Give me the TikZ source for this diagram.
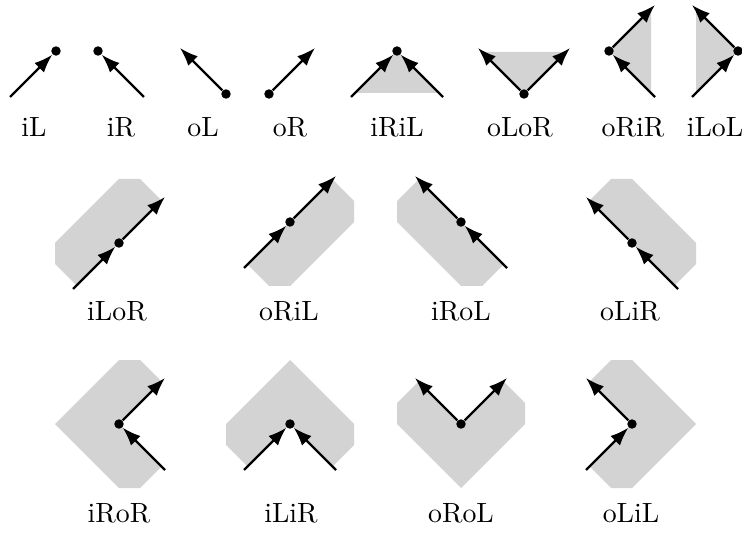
\documentclass[tikz,border=0pt]{standalone}
\usetikzlibrary{arrows.meta}
\definecolor{shade}{RGB}{211,211,211}
\tikzset{
  dotn/.style={circle,fill=black,inner sep=0pt,minimum size=3.5pt},
  arr/.style={line width=0.8pt,-{Latex[length=6.8pt,width=5pt]}},
  region/.style={fill=shade,draw=none},
  lab/.style={anchor=base,inner sep=0pt,font=\fontsize{10.3}{12}\selectfont}
}
\begin{document}
\begin{tikzpicture}[x=0.37pt,y=-0.37pt]
\useasboundingbox (0,0) rectangle (742,539);
% ---------- row 1 ----------
\begin{scope}[shift={(56,51)}]
  \node[dotn] (iLd) at (0,0) {};
  \coordinate (iLs) at (-46,46);
  \draw[arr] (iLs) -- (iLd);
\end{scope}
\begin{scope}[shift={(98,51)}]
  \node[dotn] (iRd) at (0,0) {};
  \coordinate (iRs) at (46,46);
  \draw[arr] (iRs) -- (iRd);
\end{scope}
\begin{scope}[shift={(226,94)}]
  \node[dotn] (oLd) at (0,0) {};
  \coordinate (oLt) at (-46,-46);
  \draw[arr] (oLd) -- (oLt);
\end{scope}
\begin{scope}[shift={(269,94)}]
  \node[dotn] (oRd) at (0,0) {};
  \coordinate (oRt) at (46,-46);
  \draw[arr] (oRd) -- (oRt);
\end{scope}
\begin{scope}[shift={(397,51)}]
  \fill[region] (0,0) -- (-42,42) -- (42,42) -- cycle;
  \node[dotn] (iRiLd) at (0,0) {};
  \coordinate (iRiLa) at (-46,46);
  \coordinate (iRiLb) at (46,46);
  \draw[arr] (iRiLa) -- (iRiLd);
  \draw[arr] (iRiLb) -- (iRiLd);
\end{scope}
\begin{scope}[shift={(524,94)}]
  \fill[region] (0,0) -- (-42,-42) -- (42,-42) -- cycle;
  \node[dotn] (oLoRd) at (0,0) {};
  \coordinate (oLoRa) at (-46,-46);
  \coordinate (oLoRb) at (46,-46);
  \draw[arr] (oLoRd) -- (oLoRa);
  \draw[arr] (oLoRd) -- (oLoRb);
\end{scope}
\begin{scope}[shift={(609,51)}]
  \fill[region] (0,0) -- (42,-42) -- (42,42) -- cycle;
  \node[dotn] (oRiRd) at (0,0) {};
  \coordinate (oRiRs) at (46,46);
  \coordinate (oRiRt) at (46,-46);
  \draw[arr] (oRiRs) -- (oRiRd);
  \draw[arr] (oRiRd) -- (oRiRt);
\end{scope}
\begin{scope}[shift={(738,51)}]
  \fill[region] (0,0) -- (-42,-42) -- (-42,42) -- cycle;
  \node[dotn] (iLoLd) at (0,0) {};
  \coordinate (iLoLs) at (-46,46);
  \coordinate (iLoLt) at (-46,-46);
  \draw[arr] (iLoLs) -- (iLoLd);
  \draw[arr] (iLoLd) -- (iLoLt);
\end{scope}
\node[lab] (l1) at (34,137) {iL};
\node[lab] (l2) at (121,137) {iR};
\node[lab] (l3) at (203,137) {oL};
\node[lab] (l4) at (290,137) {oR};
\node[lab] (l5) at (397,137) {iRiL};
\node[lab] (l6) at (520,137) {oLoR};
\node[lab] (l7) at (633,137) {oRiR};
\node[lab] (l8) at (715,137) {iLoL};
% ---------- row 2 ----------
\begin{scope}[shift={(119,243)}]
  \fill[region] (42.5,-42.5) -- (21,-64) -- (0,-64) -- (-64,0) -- (-64,21) -- (-42.5,42.5) -- cycle;
  \node[dotn] (iLoRd) at (0,0) {};
  \coordinate (iLoRs) at (-46,46);
  \coordinate (iLoRt) at (46,-46);
  \draw[arr] (iLoRs) -- (iLoRd);
  \draw[arr] (iLoRd) -- (iLoRt);
\end{scope}
\begin{scope}[shift={(290,222)}]
  \fill[region] (42.5,-42.5) -- (64,-21) -- (64,0) -- (0,64) -- (-21,64) -- (-42.5,42.5) -- cycle;
  \node[dotn] (oRiLd) at (0,0) {};
  \coordinate (oRiLs) at (-46,46);
  \coordinate (oRiLt) at (46,-46);
  \draw[arr] (oRiLs) -- (oRiLd);
  \draw[arr] (oRiLd) -- (oRiLt);
\end{scope}
\begin{scope}[shift={(461,222)}]
  \fill[region] (-42.5,-42.5) -- (-64,-21) -- (-64,0) -- (0,64) -- (21,64) -- (42.5,42.5) -- cycle;
  \node[dotn] (iRoLd) at (0,0) {};
  \coordinate (iRoLs) at (46,46);
  \coordinate (iRoLt) at (-46,-46);
  \draw[arr] (iRoLs) -- (iRoLd);
  \draw[arr] (iRoLd) -- (iRoLt);
\end{scope}
\begin{scope}[shift={(632,243)}]
  \fill[region] (-42.5,-42.5) -- (-21,-64) -- (0,-64) -- (64,0) -- (64,21) -- (42.5,42.5) -- cycle;
  \node[dotn] (oLiRd) at (0,0) {};
  \coordinate (oLiRs) at (46,46);
  \coordinate (oLiRt) at (-46,-46);
  \draw[arr] (oLiRs) -- (oLiRd);
  \draw[arr] (oLiRd) -- (oLiRt);
\end{scope}
\node[lab] (l9) at (117,320) {iLoR};
\node[lab] (l10) at (289,320) {oRiL};
\node[lab] (l11) at (461,320) {iRoL};
\node[lab] (l12) at (630,320) {oLiR};
% ---------- row 3 ----------
\begin{scope}[shift={(119,424)}]
  \fill[region] (0,0) -- (42.5,-42.5) -- (21,-64) -- (0,-64) -- (-64,0) -- (0,64) -- (21,64) -- (42.5,42.5) -- cycle;
  \node[dotn] (iRoRd) at (0,0) {};
  \coordinate (iRoRs) at (46,46);
  \coordinate (iRoRt) at (46,-46);
  \draw[arr] (iRoRs) -- (iRoRd);
  \draw[arr] (iRoRd) -- (iRoRt);
\end{scope}
\begin{scope}[shift={(290,424)}]
  \fill[region] (0,0) -- (-42.5,42.5) -- (-64,21) -- (-64,0) -- (0,-64) -- (64,0) -- (64,21) -- (42.5,42.5) -- cycle;
  \node[dotn] (iLiRd) at (0,0) {};
  \coordinate (iLiRa) at (-46,46);
  \coordinate (iLiRb) at (46,46);
  \draw[arr] (iLiRa) -- (iLiRd);
  \draw[arr] (iLiRb) -- (iLiRd);
\end{scope}
\begin{scope}[shift={(461,424)}]
  \fill[region] (0,0) -- (-42.5,-42.5) -- (-64,-21) -- (-64,0) -- (0,64) -- (64,0) -- (64,-21) -- (42.5,-42.5) -- cycle;
  \node[dotn] (oRoLd) at (0,0) {};
  \coordinate (oRoLa) at (-46,-46);
  \coordinate (oRoLb) at (46,-46);
  \draw[arr] (oRoLd) -- (oRoLa);
  \draw[arr] (oRoLd) -- (oRoLb);
\end{scope}
\begin{scope}[shift={(632,424)}]
  \fill[region] (0,0) -- (-42.5,-42.5) -- (-21,-64) -- (0,-64) -- (64,0) -- (0,64) -- (-21,64) -- (-42.5,42.5) -- cycle;
  \node[dotn] (oLiLd) at (0,0) {};
  \coordinate (oLiLs) at (-46,46);
  \coordinate (oLiLt) at (-46,-46);
  \draw[arr] (oLiLs) -- (oLiLd);
  \draw[arr] (oLiLd) -- (oLiLt);
\end{scope}
\node[lab] (l13) at (119,522) {iRoR};
\node[lab] (l14) at (291,522) {iLiR};
\node[lab] (l15) at (461,522) {oRoL};
\node[lab] (l16) at (631,522) {oLiL};
\end{tikzpicture}
\end{document}
